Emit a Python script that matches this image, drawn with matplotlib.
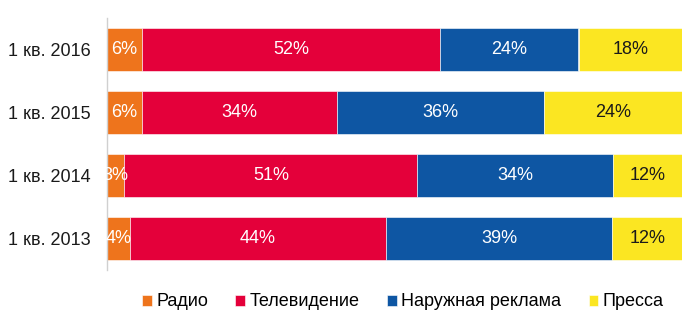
import matplotlib
matplotlib.use('Agg')
from matplotlib import pyplot as plt
import numpy as np

plt.rcParams['font.family'] = ['Liberation Sans', 'DejaVu Sans']

# Data
periods = ['1 кв. 2016', '1 кв. 2015', '1 кв. 2014', '1 кв. 2013']
media = ['Радио', 'Телевидение', 'Наружная реклама', 'Пресса']
radio = [6, 6, 3, 4]
tv = [52, 34, 51, 44]
outdoor = [24, 36, 34, 39]
press = [18, 24, 12, 12]

colors = ['#EE741C', '#E4003A', '#0E56A3', '#FBE622']
text_colors = ['white', 'white', 'white', '#1a1a1a']

series = np.array([radio, tv, outdoor, press], dtype=float)
# 100% stacked: scale each row to its total
shares = series / series.sum(axis=0) * 100

fig = plt.figure(figsize=(7, 3.27), dpi=100)
ax = fig.add_axes([107/700, 1 - 270/327, (682 - 107)/700, (270 - 18)/327])

y = np.arange(len(periods))
left = np.zeros(len(periods))
for vals, widths, name, c, tc in zip(series, shares, media, colors, text_colors):
    ax.barh(y, widths, left=left, height=0.667, color=c, label=name,
            edgecolor='white', linewidth=0.4)
    for yi, (l, w, v) in enumerate(zip(left, widths, vals)):
        ax.text(l + w/2, yi, '%d%%' % v, ha='center', va='center',
                color=tc, fontsize=13)
    left += widths

ax.set_xlim(0, 100)
ax.set_ylim(len(periods) - 0.5, -0.5)
ax.set_yticks(y)
ax.set_yticklabels(periods, fontsize=13, color='#1a1a1a')
ax.tick_params(axis='y', length=0, pad=12)
ax.set_xticks([])
for s in ['top', 'right', 'bottom']:
    ax.spines[s].set_visible(False)
ax.spines['left'].set_color('#d0d0d0')
ax.spines['left'].set_linewidth(1)

ax.legend(loc='center', bbox_to_anchor=(403/700, 1 - 302/327), bbox_transform=fig.transFigure,
          ncol=4, frameon=False, fontsize=13, handlelength=0.55, handleheight=0.55,
          handletextpad=0.25, columnspacing=1.5, borderaxespad=0)

plt.savefig('out.png', dpi=100)
